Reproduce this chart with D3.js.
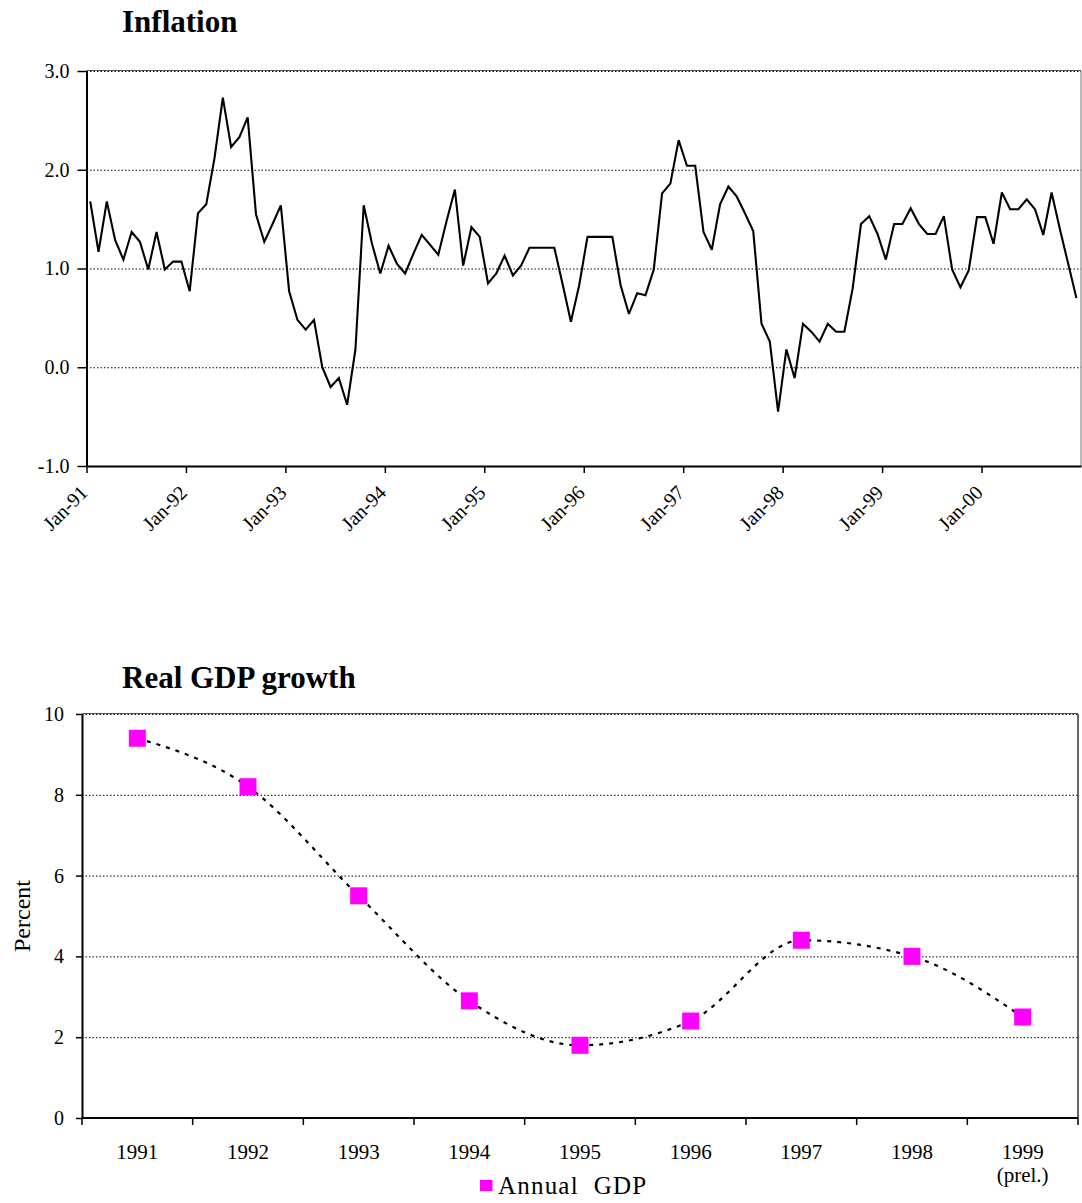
<!DOCTYPE html>
<html><head><meta charset="utf-8">
<script src="https://cdn.jsdelivr.net/npm/d3@7"></script>
<style>
body{margin:0;background:#fff}
text{font-family:"Liberation Serif","Times New Roman",serif;fill:#000}
</style>
</head><body>
<svg id="c" width="1082" height="1203"></svg>
<script>
// ---------- DATA ----------
const inflationTitle = "Inflation";
// monthly inflation, Jan-91 ... Dec-00
const inflation1991 = [1.68, 1.17, 1.68, 1.29, 1.09, 1.37, 1.27, 0.99, 1.37, 0.99, 1.07, 1.07];
const inflation1992 = [0.77, 1.56, 1.65, 2.12, 2.73, 2.23, 2.33, 2.53, 1.55, 1.27, 1.45, 1.64];
const inflation1993 = [0.77, 0.48, 0.38, 0.48, 0.00, -0.20, -0.11, -0.38, 0.18, 1.64, 1.25, 0.95];
const inflation1994 = [1.23, 1.05, 0.95, 1.15, 1.34, 1.24, 1.14, 1.48, 1.80, 1.03, 1.42, 1.32];
const inflation1995 = [0.85, 0.95, 1.13, 0.93, 1.03, 1.21, 1.21, 1.21, 1.21, 0.84, 0.46, 0.83];
const inflation1996 = [1.32, 1.32, 1.32, 1.32, 0.83, 0.54, 0.75, 0.73, 0.99, 1.76, 1.86, 2.30];
const inflation1997 = [2.04, 2.04, 1.37, 1.19, 1.65, 1.83, 1.73, 1.56, 1.38, 0.44, 0.26, -0.45];
const inflation1998 = [0.18, -0.11, 0.44, 0.36, 0.26, 0.44, 0.36, 0.36, 0.80, 1.45, 1.53, 1.35];
const inflation1999 = [1.09, 1.45, 1.45, 1.61, 1.45, 1.35, 1.35, 1.53, 0.99, 0.81, 0.98, 1.52];
const inflation2000 = [1.52, 1.25, 1.77, 1.60, 1.60, 1.70, 1.60, 1.34, 1.77, 1.40, 1.05, 0.70];
const inflationTickLabels = ["Jan-91","Jan-92","Jan-93","Jan-94","Jan-95","Jan-96","Jan-97","Jan-98","Jan-99","Jan-00"];
const inflationYTicks = [-1, 0, 1, 2, 3];
const inflationGrid = [0, 1, 2, 3];

const gdpTitle = "Real GDP growth";
const gdpYears = ["1991","1992","1993","1994","1995","1996","1997","1998","1999"];
const gdpLabelLines = [["1991"],["1992"],["1993"],["1994"],["1995"],["1996"],["1997"],["1998"],["1999","(prel.)"]];
const gdpValues = [9.4, 8.2, 5.5, 2.9, 1.8, 2.4, 4.4, 4.0, 2.5];
const gdpYTicks = [0, 2, 4, 6, 8, 10];
const gdpGrid = [2, 4, 6, 8, 10];
const gdpSeriesName = "Annual  GDP";
const gdpYLabel = "Percent";

const inflation = [].concat(inflation1991, inflation1992, inflation1993, inflation1994, inflation1995,
  inflation1996, inflation1997, inflation1998, inflation1999, inflation2000);

// ---------- DRAW ----------
const svg = d3.select("#c");

// ===== Inflation chart =====
(function(){
  const L = 86.5, R = 1081, T = 71, B = 466;
  const x = d3.scaleLinear().domain([0, inflation.length]).range([L, R]);
  const y = d3.scaleLinear().domain([-1, 3]).range([B, T]);
  const g = svg.append("g");

  g.append("text").attr("x", 122).attr("y", 32)
    .attr("font-size", 31).attr("font-weight", "bold").text(inflationTitle);

  g.selectAll("line.grid").data(inflationGrid).enter().append("line")
    .attr("x1", L).attr("x2", R).attr("y1", d => y(d) + 0.5).attr("y2", d => y(d) + 0.5)
    .attr("stroke", "#000").attr("stroke-width", 1).attr("stroke-dasharray", "1.5,2");
  g.append("line").attr("x1", L).attr("x2", R).attr("y1", T - 0.5).attr("y2", T - 0.5)
    .attr("stroke", "#555").attr("stroke-width", 1);
  g.append("line").attr("x1", R).attr("x2", R).attr("y1", T).attr("y2", B)
    .attr("stroke", "#777").attr("stroke-width", 1);

  const line = d3.line().x((d, i) => x(i + 0.45)).y(d => y(d));
  g.append("path").datum(inflation).attr("d", line)
    .attr("fill", "none").attr("stroke", "#000").attr("stroke-width", 2.1)
    .attr("stroke-linejoin", "miter").attr("stroke-miterlimit", 3);

  const ya = g.append("g").attr("transform", `translate(${L},0)`)
    .call(d3.axisLeft(y).tickValues(inflationYTicks).tickSize(9).tickSizeOuter(0).tickPadding(8)
      .tickFormat(d => d.toFixed(1)));
  ya.select(".domain").attr("stroke", "#000").attr("stroke-width", 2);
  ya.selectAll(".tick line").attr("stroke", "#000").attr("stroke-width", 1.5);
  ya.selectAll("text").attr("font-size", 20).attr("font-family", "Liberation Serif").attr("fill", "#000");

  const xa = g.append("g").attr("transform", `translate(0,${B})`)
    .call(d3.axisBottom(x).tickValues(inflationTickLabels.map((d, i) => i * 12))
      .tickSize(7).tickSizeOuter(0).tickFormat((d, i) => inflationTickLabels[i]));
  xa.select(".domain").attr("stroke", "#000").attr("stroke-width", 2);
  xa.selectAll(".tick line").attr("stroke", "#000").attr("stroke-width", 1.5);
  xa.selectAll("text").attr("font-size", 20).attr("font-family", "Liberation Serif").attr("fill", "#000")
    .attr("text-anchor", "end").attr("x", 0).attr("y", 0).attr("dy", "0.35em")
    .attr("transform", "translate(-3,23) rotate(-45)");
})();

// ===== GDP chart =====
(function(){
  const L = 82, R = 1078, T = 714, B = 1118;
  const x = d3.scaleBand().domain(gdpYears).range([L, R]).padding(0);
  const y = d3.scaleLinear().domain([0, 10]).range([B, T]);
  const g = svg.append("g");

  g.append("text").attr("x", 122).attr("y", 688)
    .attr("font-size", 31).attr("font-weight", "bold").text(gdpTitle);

  g.selectAll("line.grid").data(gdpGrid).enter().append("line")
    .attr("x1", L).attr("x2", R).attr("y1", d => y(d) + 0.5).attr("y2", d => y(d) + 0.5)
    .attr("stroke", "#000").attr("stroke-width", 1).attr("stroke-dasharray", "1.5,2");
  g.append("line").attr("x1", L).attr("x2", R).attr("y1", T - 0.5).attr("y2", T - 0.5)
    .attr("stroke", "#555").attr("stroke-width", 1);
  g.append("line").attr("x1", R).attr("x2", R).attr("y1", T).attr("y2", B)
    .attr("stroke", "#333").attr("stroke-width", 1.5);

  const cx = d => x(d) + x.bandwidth() / 2;
  const line = d3.line().curve(d3.curveMonotoneX)
    .x((d, i) => cx(gdpYears[i])).y(d => y(d));
  g.append("path").datum(gdpValues).attr("d", line)
    .attr("fill", "none").attr("stroke", "#000").attr("stroke-width", 2.2)
    .attr("stroke-dasharray", "4,6");

  const ms = 17;
  g.selectAll("rect.m").data(gdpValues).enter().append("rect")
    .attr("x", (d, i) => cx(gdpYears[i]) - ms / 2).attr("y", d => y(d) - ms / 2)
    .attr("width", ms).attr("height", ms).attr("fill", "#FF00FF");

  const ya = g.append("g").attr("transform", `translate(${L},0)`)
    .call(d3.axisLeft(y).tickValues(gdpYTicks).tickSize(6).tickSizeOuter(0).tickPadding(12));
  ya.select(".domain").attr("stroke", "#000").attr("stroke-width", 2);
  ya.selectAll(".tick line").attr("stroke", "#000").attr("stroke-width", 1.5);
  ya.selectAll("text").attr("font-size", 20).attr("font-family", "Liberation Serif").attr("fill", "#000");

  const xa = g.append("g").attr("transform", `translate(0,${B})`);
  xa.append("line").attr("x1", L).attr("x2", R).attr("stroke", "#000").attr("stroke-width", 2);
  const bounds = gdpYears.map(d => x(d)).concat([R]);
  xa.selectAll("line.t").data(bounds).enter().append("line")
    .attr("x1", d => d).attr("x2", d => d).attr("y1", 0).attr("y2", 7)
    .attr("stroke", "#000").attr("stroke-width", 1.5);
  const lab = xa.selectAll("text.l").data(gdpYears).enter().append("text")
    .attr("text-anchor", "middle").attr("font-size", 21)
    .attr("x", d => cx(d)).attr("y", 41);
  lab.selectAll("tspan").data((d, i) => gdpLabelLines[i]).enter().append("tspan")
    .attr("x", function(){ return d3.select(this.parentNode).attr("x"); })
    .attr("dy", (d, j) => j === 0 ? 0 : 23).text(d => d);

  g.append("text").attr("transform", `translate(30,${(T + B) / 2}) rotate(-90)`)
    .attr("text-anchor", "middle").attr("font-size", 24).text(gdpYLabel);

  g.append("rect").attr("x", 480).attr("y", 1180).attr("width", 12.5).attr("height", 11).attr("fill", "#FF00FF");
  g.append("text").attr("x", 498).attr("y", 1194).attr("font-size", 25)
    .attr("letter-spacing", 1.2).style("white-space", "pre").text(gdpSeriesName);
})();
</script>
</body></html>
